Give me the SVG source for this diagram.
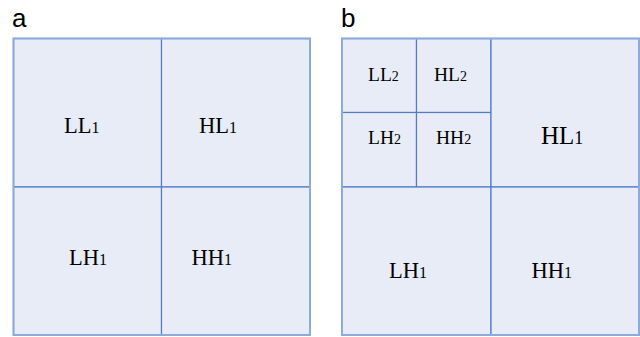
<svg xmlns="http://www.w3.org/2000/svg" width="640" height="337" viewBox="0 0 640 337">
<style>
.cell{fill:#e7ecf6;stroke:#4f7cc6;stroke-width:1.2}
.frame{fill:none;stroke:#8eaadc;stroke-width:2}
.t{font-family:"Liberation Serif","Times New Roman",serif;fill:#000}
.lab{font-family:"Liberation Sans",Arial,sans-serif;font-size:26px;fill:#000}
</style>
<rect width="640" height="337" fill="#fff"/>
<text class="lab" x="12" y="27">a</text>
<text class="lab" x="341" y="27">b</text>
<g id="panel-a">
  <g id="a-LL1"><rect class="cell" x="13.5" y="38.5" width="148" height="148.5"/><text class="t" x="64" y="133" font-size="22.5">LL<tspan font-size="16">1</tspan></text></g>
  <g id="a-HL1"><rect class="cell" x="161.5" y="38.5" width="148.5" height="148.5"/><text class="t" x="199" y="133" font-size="22.5">HL<tspan font-size="16">1</tspan></text></g>
  <g id="a-LH1"><rect class="cell" x="13.5" y="187" width="148" height="148"/><text class="t" x="69" y="265" font-size="22.5">LH<tspan font-size="16">1</tspan></text></g>
  <g id="a-HH1"><rect class="cell" x="161.5" y="187" width="148.5" height="148"/><text class="t" x="191.5" y="265" font-size="22.5">HH<tspan font-size="16">1</tspan></text></g>
  <rect class="frame" x="13.5" y="38.5" width="296.5" height="296.5"/>
</g>
<g id="panel-b">
  <g id="b-LL2"><rect class="cell" x="342" y="38.5" width="74.5" height="74"/><text class="t" x="368" y="80.5" font-size="19.5">LL<tspan font-size="14">2</tspan></text></g>
  <g id="b-HL2"><rect class="cell" x="416.5" y="38.5" width="74.5" height="74"/><text class="t" x="434" y="80.5" font-size="19.5">HL<tspan font-size="14">2</tspan></text></g>
  <g id="b-LH2"><rect class="cell" x="342" y="112.5" width="74.5" height="74.5"/><text class="t" x="368" y="144" font-size="19.5">LH<tspan font-size="14">2</tspan></text></g>
  <g id="b-HH2"><rect class="cell" x="416.5" y="112.5" width="74.5" height="74.5"/><text class="t" x="436" y="144" font-size="19.5">HH<tspan font-size="14">2</tspan></text></g>
  <g id="b-HL1"><rect class="cell" x="491" y="38.5" width="148" height="148.5"/><text class="t" x="541" y="144" font-size="25">HL<tspan font-size="18">1</tspan></text></g>
  <g id="b-LH1"><rect class="cell" x="342" y="187" width="149" height="148"/><text class="t" x="389" y="277.5" font-size="22.5">LH<tspan font-size="16">1</tspan></text></g>
  <g id="b-HH1"><rect class="cell" x="491" y="187" width="148" height="148"/><text class="t" x="531.5" y="277.5" font-size="22.5">HH<tspan font-size="16">1</tspan></text></g>
  <rect class="frame" x="342" y="38.5" width="297" height="296.5"/>
</g>
</svg>
